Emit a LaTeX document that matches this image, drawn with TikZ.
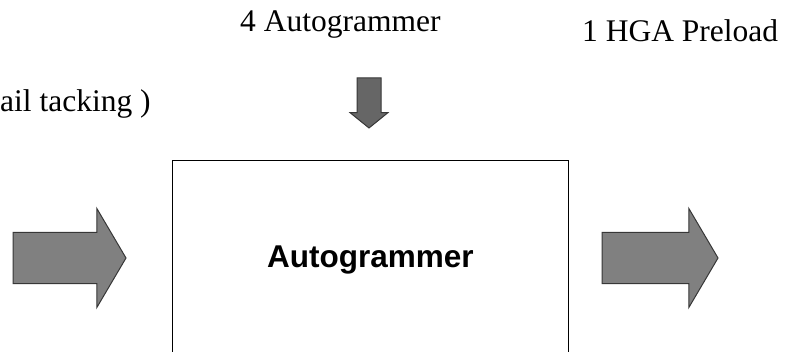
\documentclass[tikz,border=0pt]{standalone}
\usepackage{fontspec}
\setmainfont{Liberation Serif}
\setsansfont{Liberation Sans}
\usetikzlibrary{shapes.arrows,positioning}
\definecolor{arrowfill}{RGB}{128,128,128}
\definecolor{arrowedge}{RGB}{55,55,55}

\tikzset{
  blockarrow/.style={single arrow,draw=arrowedge,fill=arrowfill,line width=1pt,
    inner sep=0pt,outer sep=0pt,single arrow head indent=0pt,text width=0pt},
  label/.style={anchor=base west,inner sep=0pt,font=\fontsize{31.5}{36}\selectfont},
  machine/.style={draw,line width=0.9pt,inner sep=0pt,minimum width=396pt,minimum height=200pt,
    font=\sffamily\bfseries\fontsize{31.5}{36}\selectfont}
}

\begin{document}
\begin{tikzpicture}[x=1pt,y=-1pt]
    \clip (0,0) rectangle (791,352);
    % station box, cut off by the bottom edge
    \node[machine,anchor=north west] (autogrammer) at (172,160) {Autogrammer};
    % flows in and out
    \node[blockarrow,minimum height=113pt,text height=25pt,text depth=25pt,single arrow head extend=24pt,
      single arrow tip angle=119,anchor=tip] (inflow) at (126,258) {};
    \node[blockarrow,minimum height=116pt,text height=25pt,text depth=25pt,single arrow head extend=24pt,
      single arrow tip angle=119,anchor=tip] (outflow) at (718,258) {};
    \node[blockarrow,fill=arrowfill!80!black,minimum height=50pt,text height=11.5pt,text depth=11.5pt,
      single arrow head extend=7pt,single arrow tip angle=102,rotate=-90,
      anchor=tip] (feed) at (369,128) {};
    % texts
    \node[label] (feedlbl) at (240,32) {4 Autogrammer};
    \node[label] (outlbl) at (582,42) {1 HGA Preload};
    \node[label] (inlbl) at (0,112) {ail tacking )};
\end{tikzpicture}
\end{document}
